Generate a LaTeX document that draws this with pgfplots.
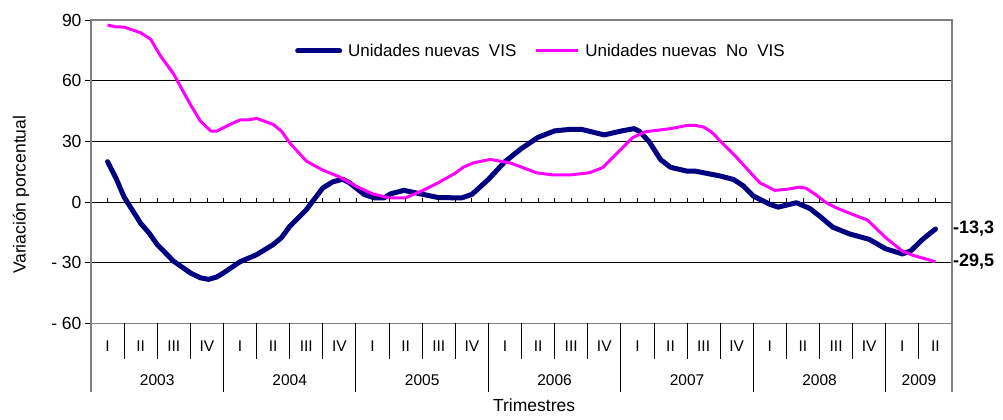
\documentclass[border=0pt]{standalone}
\usepackage{fontspec}
\setmainfont{Liberation Sans}
\usepackage{pgfplots}
\pgfplotsset{compat=1.18}
\usetikzlibrary{calc}
\definecolor{vis}{RGB}{0,0,128}
\definecolor{novis}{RGB}{255,0,255}
\definecolor{framegray}{RGB}{128,128,128}

\newcommand{\fbig}{\fontsize{17.5}{20}\selectfont}
\newcommand{\fcat}{\fontsize{15.5}{18}\selectfont}

\begin{document}
\begin{tikzpicture}
\begin{axis}[
    scale only axis, width=861pt, height=303.5pt,
    xmin=0, xmax=26, ymin=-60, ymax=90,
    xtick=\empty,
    ytick={-60,-30,0,30,60,90},
    yticklabels={- 60,- 30,0,30,60,90},
    ytick pos=left, tick align=outside, major tick length=6pt,
    tick style={black, line width=0.8pt},
    yticklabel style={font=\fbig},
    ymajorgrids, grid style={black, line width=0.8pt},
    axis line style={framegray, line width=1.6pt},
    clip=false,
    legend columns=2,
    legend style={draw=none, fill=none, font=\fontsize{17}{20}\selectfont,
        at={(axis cs:6.16,74.7)}, anchor=west, inner sep=0pt,
        /tikz/every even column/.append style={column sep=16pt}},
    legend cell align=left,
    legend image code/.code={\draw[#1] (0pt,0pt) -- (42pt,0pt); \path (46pt,0pt);},
]
\addplot[vis, line width=5pt, line join=round, line cap=round] coordinates {
 (0.5,20) (0.75,12) (1.0,2.5) (1.5,-10.5) (1.75,-15.2) (2.0,-21) (2.5,-29.3)
 (3.0,-35) (3.3,-37.4) (3.55,-38.2) (3.8,-37) (4.0,-35) (4.5,-29.5) (5.0,-26)
 (5.5,-21) (5.75,-17.6) (6.0,-12) (6.5,-3.8) (7.0,7) (7.3,10) (7.6,11.3)
 (7.8,9.6) (8.25,3.8) (8.55,2.1) (8.85,2.1) (9.05,4.1) (9.45,5.8) (10.0,3.9)
 (10.5,2.2) (11.2,2.1) (11.5,3.8) (12.0,11.2) (12.5,20) (13.0,26.5) (13.5,32)
 (14.0,35.2) (14.5,36) (14.8,36) (15.5,33.2) (16.0,35.1) (16.4,36.3)
 (16.55,35.1) (16.85,30) (17.2,21) (17.5,17.2) (18.0,15.3) (18.25,15.3)
 (19.0,12.9) (19.4,11.2) (19.7,8) (20.0,3) (20.5,-1.1) (20.75,-2.5)
 (21.3,-0.3) (21.7,-3.1) (22.0,-6.9) (22.4,-12.4) (22.9,-15.7) (23.5,-18.4)
 (24.0,-23.1) (24.5,-25.6) (24.75,-24.2) (25.1,-18.6) (25.5,-13.3)
};
\addlegendentry{Unidades nuevas\ \ VIS}
\addplot[novis, line width=3pt, line join=round] coordinates {
 (0.5,87.5) (0.75,86.6) (1.0,86.5) (1.5,83.7) (1.8,80.5) (2.1,72.2) (2.5,63.2)
 (2.75,55.7) (3.0,48.3) (3.3,40.1) (3.62,35.1) (3.8,35.1) (4.2,38.4)
 (4.5,40.6) (4.75,40.6) (5.0,41.4) (5.5,38.4) (5.75,35.1) (6.0,29.3)
 (6.5,20.3) (7.0,15.8) (7.5,12.5) (8.0,7.9) (8.5,4.1) (9.0,2.1) (9.5,2.1)
 (10.0,5.6) (10.5,9.7) (11.0,14.3) (11.25,17.3) (11.55,19.4) (12.05,21.1)
 (12.65,19.4) (13.05,17) (13.45,14.5) (13.95,13.4) (14.45,13.4) (15.05,14.5)
 (15.45,17) (15.85,23.6) (16.35,31.8) (16.75,34.8) (17.1,35.5) (17.5,36.3)
 (18.0,37.9) (18.25,37.9) (18.5,37.1) (18.75,34.5) (19.0,30.2) (19.5,22)
 (20.0,13) (20.2,9.5) (20.65,5.8) (21.0,6.3) (21.4,7.4) (21.6,6.8) (21.9,3.5)
 (22.2,-0.3) (22.5,-2.8) (23.0,-6.1) (23.45,-8.9) (24.0,-17.6) (24.5,-24.2)
 (24.8,-26.2) (25.5,-29.5)
};
\addlegendentry{Unidades nuevas\ \ No\ \ VIS}

% small ticks on the zero line
\pgfplotsinvokeforeach{1,...,51}{
  \draw[black, line width=0.8pt] (axis cs:#1/2,0) -- ([yshift=4pt]axis cs:#1/2,0);
}

% category table below the plot
\pgfplotsinvokeforeach{1,...,25}{
  \draw[black, line width=0.9pt] (axis cs:#1,-60) -- ([yshift=-36pt]axis cs:#1,-60);
}
\pgfplotsinvokeforeach{4,8,...,24}{
  \draw[black, line width=0.9pt] (axis cs:#1,-60) -- ([yshift=-69pt]axis cs:#1,-60);
}
\draw[framegray, line width=1.6pt] (axis cs:0,-60) -- ([yshift=-69pt]axis cs:0,-60);
\draw[framegray, line width=1.6pt] (axis cs:26,-60) -- ([yshift=-69pt]axis cs:26,-60);
\pgfplotsinvokeforeach{0,4,...,24}{
  \node[font=\fcat] at ([yshift=-23pt]axis cs:#1+0.5,-60) {I};
  \node[font=\fcat] at ([yshift=-23pt]axis cs:#1+1.5,-60) {II};
}
\pgfplotsinvokeforeach{0,4,...,20}{
  \node[font=\fcat] at ([yshift=-23pt]axis cs:#1+2.5,-60) {III};
  \node[font=\fcat] at ([yshift=-23pt]axis cs:#1+3.5,-60) {IV};
}
\pgfplotsinvokeforeach{0,...,5}{
  \node[font=\fcat] at ([yshift=-57pt]axis cs:4*#1+2,-60) {\the\numexpr2003+#1\relax};
}
\node[font=\fcat] at ([yshift=-57pt]axis cs:25,-60) {2009};
\node[font=\fbig] at ([yshift=-82pt]axis cs:13.38,-60) {Trimestres};

% end values
\node[font=\bfseries\fontsize{18}{20}\selectfont, anchor=west, inner sep=1pt]
  at (axis cs:26,-13.3) {-13,3};
\node[font=\bfseries\fontsize{18}{20}\selectfont, anchor=west, inner sep=1pt]
  at (axis cs:26,-29.5) {-29,5};

\coordinate (yl) at (rel axis cs:0,0.424);
\node[rotate=90, font=\fbig] at ([xshift=-70pt]yl) {Variación porcentual};
\coordinate (bl) at (rel axis cs:0,0);
\end{axis}
\pgfresetboundingbox
\path ($(bl)+(-91pt,-96pt)$) rectangle ($(bl)+(912pt,323.5pt)$);
\end{tikzpicture}
\end{document}
